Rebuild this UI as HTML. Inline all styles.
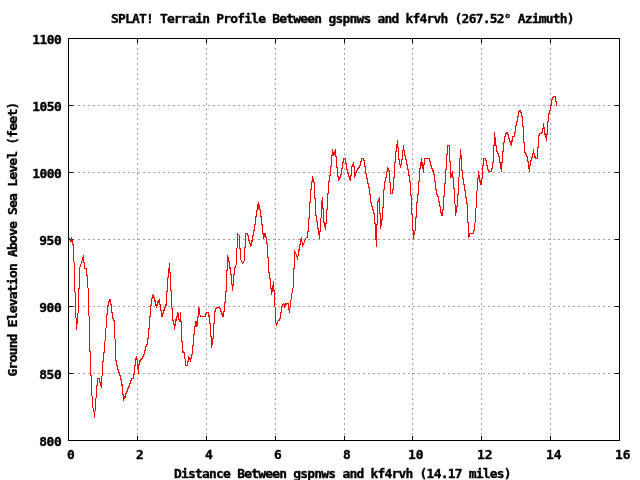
<!DOCTYPE html>
<html><head><meta charset="utf-8"><title>SPLAT! Terrain Profile</title>
<style>
html,body{margin:0;padding:0;background:#fff;}
svg{display:block}
text{font-family:"DejaVu Sans Mono","Liberation Mono",monospace;font-weight:bold;font-size:12.2px;fill:#000;stroke:#000;stroke-width:0.35px;}
</style></head><body>
<svg width="640" height="480" viewBox="0 0 640 480">
<rect width="640" height="480" fill="#fff"/>
<g shape-rendering="crispEdges">
<line x1="137.5" y1="38" x2="137.5" y2="441" stroke="#a0a0a0" stroke-width="1" stroke-dasharray="2 3"/>
<line x1="206.5" y1="38" x2="206.5" y2="441" stroke="#a0a0a0" stroke-width="1" stroke-dasharray="2 3"/>
<line x1="275.5" y1="38" x2="275.5" y2="441" stroke="#a0a0a0" stroke-width="1" stroke-dasharray="2 3"/>
<line x1="344.5" y1="38" x2="344.5" y2="441" stroke="#a0a0a0" stroke-width="1" stroke-dasharray="2 3"/>
<line x1="412.5" y1="38" x2="412.5" y2="441" stroke="#a0a0a0" stroke-width="1" stroke-dasharray="2 3"/>
<line x1="481.5" y1="38" x2="481.5" y2="441" stroke="#a0a0a0" stroke-width="1" stroke-dasharray="2 3"/>
<line x1="550.5" y1="38" x2="550.5" y2="441" stroke="#a0a0a0" stroke-width="1" stroke-dasharray="2 3"/>
<line x1="68" y1="373.5" x2="620" y2="373.5" stroke="#a0a0a0" stroke-width="1" stroke-dasharray="2 3"/>
<line x1="68" y1="306.5" x2="620" y2="306.5" stroke="#a0a0a0" stroke-width="1" stroke-dasharray="2 3"/>
<line x1="68" y1="239.5" x2="620" y2="239.5" stroke="#a0a0a0" stroke-width="1" stroke-dasharray="2 3"/>
<line x1="68" y1="172.5" x2="620" y2="172.5" stroke="#a0a0a0" stroke-width="1" stroke-dasharray="2 3"/>
<line x1="68" y1="105.5" x2="620" y2="105.5" stroke="#a0a0a0" stroke-width="1" stroke-dasharray="2 3"/>
<path d="M137 436h1v4h-1zM137 39h1v4h-1zM206 436h1v4h-1zM206 39h1v4h-1zM275 436h1v4h-1zM275 39h1v4h-1zM344 436h1v4h-1zM344 39h1v4h-1zM412 436h1v4h-1zM412 39h1v4h-1zM481 436h1v4h-1zM481 39h1v4h-1zM550 436h1v4h-1zM550 39h1v4h-1zM69 373h4v1h-4zM615 373h4v1h-4zM69 306h4v1h-4zM615 306h4v1h-4zM69 239h4v1h-4zM615 239h4v1h-4zM69 172h4v1h-4zM615 172h4v1h-4zM69 105h4v1h-4zM615 105h4v1h-4z" fill="#000"/>
<path d="M68 238h1v1h-1zM69 238h1v2h-1zM70 240h1v2h-1zM71 237h1v5h-1zM72 240h1v5h-1zM73 244h1v18h-1zM74 262h1v30h-1zM75 292h1v26h-1zM76 318h1v12h-1zM77 313h1v11h-1zM78 288h1v25h-1zM79 267h1v22h-1zM80 264h1v3h-1zM81 261h1v3h-1zM82 257h1v4h-1zM83 255h1v8h-1zM84 262h1v7h-1zM85 268h1v1h-1zM86 268h1v8h-1zM87 275h1v13h-1zM88 288h1v28h-1zM89 316h1v36h-1zM90 351h1v25h-1zM91 375h1v21h-1zM92 396h1v12h-1zM93 408h1v4h-1zM94 411h1v7h-1zM95 398h1v13h-1zM96 385h1v13h-1zM97 378h1v8h-1zM98 378h1v1h-1zM99 378h1v5h-1zM100 382h1v4h-1zM101 376h1v12h-1zM102 361h1v15h-1zM103 352h1v10h-1zM104 341h1v12h-1zM105 328h1v13h-1zM106 314h1v14h-1zM107 305h1v10h-1zM108 301h1v5h-1zM109 299h1v3h-1zM110 299h1v6h-1zM111 304h1v9h-1zM112 312h1v7h-1zM113 318h1v3h-1zM114 320h1v19h-1zM115 339h1v22h-1zM116 360h1v6h-1zM117 365h1v5h-1zM118 369h1v4h-1zM119 372h1v4h-1zM120 375h1v5h-1zM121 379h1v7h-1zM122 384h1v11h-1zM123 394h1v7h-1zM124 396h1v3h-1zM125 393h1v5h-1zM126 391h1v3h-1zM127 388h1v4h-1zM128 386h1v3h-1zM129 383h1v4h-1zM130 380h1v4h-1zM131 378h1v3h-1zM132 378h1v1h-1zM133 374h1v5h-1zM134 365h1v10h-1zM135 358h1v8h-1zM136 356h1v4h-1zM137 359h1v10h-1zM138 364h1v10h-1zM139 360h1v5h-1zM140 359h1v3h-1zM141 358h1v2h-1zM142 356h1v3h-1zM143 354h1v3h-1zM144 350h1v5h-1zM145 346h1v5h-1zM146 344h1v3h-1zM147 338h1v7h-1zM148 328h1v11h-1zM149 316h1v13h-1zM150 305h1v12h-1zM151 298h1v8h-1zM152 295h1v4h-1zM153 294h1v4h-1zM154 297h1v5h-1zM155 300h1v6h-1zM156 304h1v4h-1zM157 301h1v5h-1zM158 300h1v3h-1zM159 299h1v6h-1zM160 304h1v7h-1zM161 310h1v7h-1zM162 313h1v4h-1zM163 309h1v5h-1zM164 307h1v4h-1zM165 304h1v4h-1zM166 291h1v15h-1zM167 277h1v15h-1zM168 268h1v10h-1zM169 263h1v10h-1zM170 272h1v19h-1zM171 290h1v19h-1zM172 308h1v13h-1zM173 320h1v5h-1zM174 324h1v6h-1zM175 319h1v7h-1zM176 316h1v5h-1zM177 312h1v5h-1zM178 313h1v7h-1zM179 319h1v3h-1zM180 312h1v10h-1zM181 321h1v21h-1zM182 341h1v12h-1zM183 351h1v2h-1zM184 352h1v7h-1zM185 359h1v7h-1zM186 365h1v1h-1zM187 361h1v5h-1zM188 356h1v6h-1zM189 357h1v3h-1zM190 358h1v4h-1zM191 354h1v5h-1zM192 345h1v10h-1zM193 334h1v12h-1zM194 326h1v9h-1zM195 321h1v6h-1zM196 321h1v6h-1zM197 316h1v10h-1zM198 307h1v10h-1zM199 308h1v7h-1zM200 315h1v2h-1zM201 316h1v1h-1zM202 316h1v1h-1zM203 316h1v1h-1zM204 316h1v1h-1zM205 313h1v4h-1zM206 312h1v2h-1zM207 312h1v1h-1zM208 312h1v5h-1zM209 315h1v9h-1zM210 323h1v14h-1zM211 336h1v12h-1zM212 338h1v7h-1zM213 323h1v16h-1zM214 311h1v13h-1zM215 308h1v4h-1zM216 307h1v2h-1zM217 307h1v1h-1zM218 307h1v1h-1zM219 307h1v2h-1zM220 308h1v4h-1zM221 311h1v4h-1zM222 313h1v4h-1zM223 311h1v6h-1zM224 302h1v10h-1zM225 291h1v12h-1zM226 270h1v22h-1zM227 255h1v16h-1zM228 257h1v5h-1zM229 261h1v8h-1zM230 267h1v8h-1zM231 274h1v11h-1zM232 284h1v7h-1zM233 274h1v12h-1zM234 267h1v8h-1zM235 265h1v3h-1zM236 248h1v17h-1zM237 233h1v15h-1zM238 234h1v1h-1zM239 235h1v14h-1zM240 248h1v12h-1zM241 260h1v2h-1zM242 262h1v2h-1zM243 261h1v2h-1zM244 247h1v14h-1zM245 233h1v15h-1zM246 233h1v1h-1zM247 233h1v3h-1zM248 235h1v6h-1zM249 240h1v4h-1zM250 243h1v4h-1zM251 240h1v6h-1zM252 235h1v7h-1zM253 230h1v6h-1zM254 224h1v7h-1zM255 216h1v9h-1zM256 210h1v7h-1zM257 204h1v7h-1zM258 202h1v7h-1zM259 205h1v5h-1zM260 209h1v8h-1zM261 216h1v9h-1zM262 224h1v10h-1zM263 233h1v6h-1zM264 233h1v4h-1zM265 233h1v5h-1zM266 237h1v7h-1zM267 243h1v15h-1zM268 257h1v16h-1zM269 272h1v7h-1zM270 278h1v11h-1zM271 288h1v7h-1zM272 285h1v7h-1zM273 281h1v10h-1zM274 290h1v17h-1zM275 307h1v16h-1zM276 323h1v3h-1zM277 321h1v3h-1zM278 320h1v1h-1zM279 318h1v3h-1zM280 312h1v7h-1zM281 306h1v7h-1zM282 304h1v3h-1zM283 303h1v2h-1zM284 304h1v4h-1zM285 303h1v4h-1zM286 303h1v2h-1zM287 303h1v1h-1zM288 303h1v7h-1zM289 308h1v5h-1zM290 300h1v8h-1zM291 293h1v7h-1zM292 288h1v5h-1zM293 268h1v20h-1zM294 250h1v19h-1zM295 252h1v2h-1zM296 254h1v3h-1zM297 256h1v4h-1zM298 249h1v7h-1zM299 244h1v7h-1zM300 239h1v6h-1zM301 237h1v5h-1zM302 242h1v5h-1zM303 243h1v2h-1zM304 240h1v3h-1zM305 238h1v2h-1zM306 237h1v1h-1zM307 231h1v7h-1zM308 218h1v14h-1zM309 202h1v17h-1zM310 189h1v14h-1zM311 181h1v9h-1zM312 176h1v6h-1zM313 178h1v5h-1zM314 182h1v17h-1zM315 198h1v18h-1zM316 215h1v7h-1zM317 221h1v8h-1zM318 228h1v7h-1zM319 231h1v8h-1zM320 218h1v14h-1zM321 201h1v17h-1zM322 197h1v12h-1zM323 208h1v15h-1zM324 222h1v5h-1zM325 223h1v7h-1zM326 209h1v15h-1zM327 193h1v17h-1zM328 181h1v13h-1zM329 175h1v7h-1zM330 166h1v10h-1zM331 155h1v12h-1zM332 149h1v7h-1zM333 152h1v4h-1zM334 151h1v4h-1zM335 149h1v8h-1zM336 156h1v12h-1zM337 167h1v10h-1zM338 176h1v5h-1zM339 177h1v3h-1zM340 174h1v4h-1zM341 168h1v7h-1zM342 162h1v7h-1zM343 158h1v5h-1zM344 158h1v1h-1zM345 158h1v6h-1zM346 163h1v7h-1zM347 169h1v5h-1zM348 173h1v4h-1zM349 176h1v4h-1zM350 175h1v6h-1zM351 166h1v10h-1zM352 164h1v3h-1zM353 162h1v5h-1zM354 166h1v12h-1zM355 172h1v4h-1zM356 170h1v3h-1zM357 168h1v3h-1zM358 167h1v2h-1zM359 165h1v3h-1zM360 161h1v5h-1zM361 158h1v4h-1zM362 158h1v1h-1zM363 158h1v3h-1zM364 160h1v7h-1zM365 166h1v8h-1zM366 173h1v6h-1zM367 178h1v6h-1zM368 183h1v5h-1zM369 187h1v8h-1zM370 194h1v9h-1zM371 202h1v5h-1zM372 206h1v4h-1zM373 209h1v5h-1zM374 213h1v11h-1zM375 223h1v17h-1zM376 224h1v23h-1zM377 201h1v24h-1zM378 199h1v3h-1zM379 197h1v17h-1zM380 213h1v16h-1zM381 219h1v7h-1zM382 207h1v13h-1zM383 189h1v19h-1zM384 181h1v9h-1zM385 177h1v5h-1zM386 171h1v7h-1zM387 167h1v5h-1zM388 168h1v3h-1zM389 170h1v13h-1zM390 182h1v12h-1zM391 193h1v1h-1zM392 189h1v5h-1zM393 177h1v13h-1zM394 162h1v16h-1zM395 151h1v12h-1zM396 144h1v8h-1zM397 140h1v8h-1zM398 147h1v13h-1zM399 159h1v6h-1zM400 164h1v4h-1zM401 159h1v6h-1zM402 150h1v10h-1zM403 145h1v6h-1zM404 150h1v6h-1zM405 155h1v5h-1zM406 159h1v6h-1zM407 164h1v6h-1zM408 169h1v7h-1zM409 175h1v7h-1zM410 181h1v15h-1zM411 195h1v20h-1zM412 214h1v17h-1zM413 230h1v9h-1zM414 231h1v4h-1zM415 217h1v14h-1zM416 202h1v16h-1zM417 194h1v9h-1zM418 181h1v14h-1zM419 168h1v14h-1zM420 162h1v7h-1zM421 158h1v8h-1zM422 162h1v7h-1zM423 164h1v9h-1zM424 158h1v7h-1zM425 158h1v1h-1zM426 158h1v1h-1zM427 158h1v1h-1zM428 158h1v1h-1zM429 158h1v4h-1zM430 161h1v5h-1zM431 165h1v4h-1zM432 168h1v4h-1zM433 170h1v5h-1zM434 174h1v8h-1zM435 181h1v9h-1zM436 189h1v6h-1zM437 194h1v3h-1zM438 196h1v6h-1zM439 201h1v6h-1zM440 206h1v7h-1zM441 212h1v4h-1zM442 209h1v7h-1zM443 196h1v14h-1zM444 183h1v14h-1zM445 169h1v15h-1zM446 154h1v16h-1zM447 145h1v10h-1zM448 145h1v1h-1zM449 145h1v17h-1zM450 161h1v17h-1zM451 173h1v4h-1zM452 171h1v7h-1zM453 177h1v12h-1zM454 188h1v16h-1zM455 204h1v12h-1zM456 206h1v7h-1zM457 194h1v13h-1zM458 177h1v18h-1zM459 158h1v19h-1zM460 149h1v10h-1zM461 155h1v16h-1zM462 170h1v9h-1zM463 178h1v7h-1zM464 184h1v7h-1zM465 190h1v8h-1zM466 197h1v7h-1zM467 203h1v20h-1zM468 222h1v16h-1zM469 233h1v4h-1zM470 233h1v1h-1zM471 233h1v1h-1zM472 233h1v1h-1zM473 230h1v4h-1zM474 223h1v8h-1zM475 208h1v15h-1zM476 191h1v17h-1zM477 178h1v13h-1zM478 171h1v8h-1zM479 175h1v7h-1zM480 180h1v5h-1zM481 178h1v7h-1zM482 165h1v14h-1zM483 158h1v8h-1zM484 158h1v1h-1zM485 158h1v3h-1zM486 160h1v6h-1zM487 165h1v5h-1zM488 169h1v3h-1zM489 171h1v1h-1zM490 171h1v1h-1zM491 168h1v4h-1zM492 162h1v7h-1zM493 145h1v18h-1zM494 132h1v14h-1zM495 137h1v9h-1zM496 145h1v7h-1zM497 151h1v3h-1zM498 153h1v4h-1zM499 156h1v7h-1zM500 162h1v7h-1zM501 162h1v10h-1zM502 151h1v12h-1zM503 142h1v10h-1zM504 136h1v7h-1zM505 133h1v4h-1zM506 132h1v2h-1zM507 132h1v3h-1zM508 134h1v5h-1zM509 138h1v4h-1zM510 141h1v4h-1zM511 140h1v6h-1zM512 136h1v6h-1zM513 136h1v1h-1zM514 132h1v5h-1zM515 125h1v8h-1zM516 121h1v5h-1zM517 116h1v6h-1zM518 111h1v6h-1zM519 110h1v2h-1zM520 110h1v3h-1zM521 112h1v5h-1zM522 116h1v11h-1zM523 126h1v17h-1zM524 142h1v11h-1zM525 152h1v3h-1zM526 154h1v3h-1zM527 156h1v6h-1zM528 161h1v8h-1zM529 165h1v7h-1zM530 160h1v6h-1zM531 157h1v4h-1zM532 153h1v5h-1zM533 149h1v5h-1zM534 153h1v5h-1zM535 156h1v3h-1zM536 158h1v1h-1zM537 147h1v12h-1zM538 135h1v13h-1zM539 133h1v3h-1zM540 133h1v1h-1zM541 132h1v2h-1zM542 128h1v5h-1zM543 123h1v6h-1zM544 127h1v8h-1zM545 133h1v5h-1zM546 134h1v7h-1zM547 121h1v14h-1zM548 113h1v9h-1zM549 110h1v4h-1zM550 105h1v6h-1zM551 99h1v7h-1zM552 97h1v3h-1zM553 96h1v2h-1zM554 96h1v1h-1zM555 96h1v6h-1zM556 101h1v5h-1z" fill="#f00"/>
<path d="M68 38h552v1h-552zM68 440h552v1h-552zM68 38h1v403h-1zM619 38h1v403h-1z" fill="#000"/>
</g>
<text transform="translate(111,23) scale(1.06,1)" textLength="437.36" lengthAdjust="spacing">SPLAT! Terrain Profile Between gspnws and kf4rvh (267.52° Azimuth)</text>
<text transform="translate(174,478) scale(1.06,1)" textLength="318.49" lengthAdjust="spacing">Distance Between gspnws and kf4rvh (14.17 miles)</text>
<g transform="translate(17.3,376.4) rotate(-90)"><text transform="translate(0,0) scale(1.06,1)" textLength="259.06" lengthAdjust="spacing">Ground Elevation Above Sea Level (feet)</text></g>
<text transform="translate(39.2,446) scale(1.06,1)" textLength="21.32" lengthAdjust="spacing">800</text>
<text transform="translate(39.2,379) scale(1.06,1)" textLength="21.32" lengthAdjust="spacing">850</text>
<text transform="translate(39.2,312) scale(1.06,1)" textLength="21.32" lengthAdjust="spacing">900</text>
<text transform="translate(39.2,245) scale(1.06,1)" textLength="21.32" lengthAdjust="spacing">950</text>
<text transform="translate(32.2,178) scale(1.06,1)" textLength="27.92" lengthAdjust="spacing">1000</text>
<text transform="translate(32.2,111) scale(1.06,1)" textLength="27.92" lengthAdjust="spacing">1050</text>
<text transform="translate(32.2,44) scale(1.06,1)" textLength="27.92" lengthAdjust="spacing">1100</text>
<text transform="translate(67,459) scale(1.06,1)" textLength="8.11" lengthAdjust="spacing">0</text>
<text transform="translate(136,459) scale(1.06,1)" textLength="8.11" lengthAdjust="spacing">2</text>
<text transform="translate(205,459) scale(1.06,1)" textLength="8.11" lengthAdjust="spacing">4</text>
<text transform="translate(274,459) scale(1.06,1)" textLength="8.11" lengthAdjust="spacing">6</text>
<text transform="translate(343,459) scale(1.06,1)" textLength="8.11" lengthAdjust="spacing">8</text>
<text transform="translate(408,459) scale(1.06,1)" textLength="14.72" lengthAdjust="spacing">10</text>
<text transform="translate(477,459) scale(1.06,1)" textLength="14.72" lengthAdjust="spacing">12</text>
<text transform="translate(546,459) scale(1.06,1)" textLength="14.72" lengthAdjust="spacing">14</text>
<text transform="translate(615,459) scale(1.06,1)" textLength="14.72" lengthAdjust="spacing">16</text>
</svg></body></html>
